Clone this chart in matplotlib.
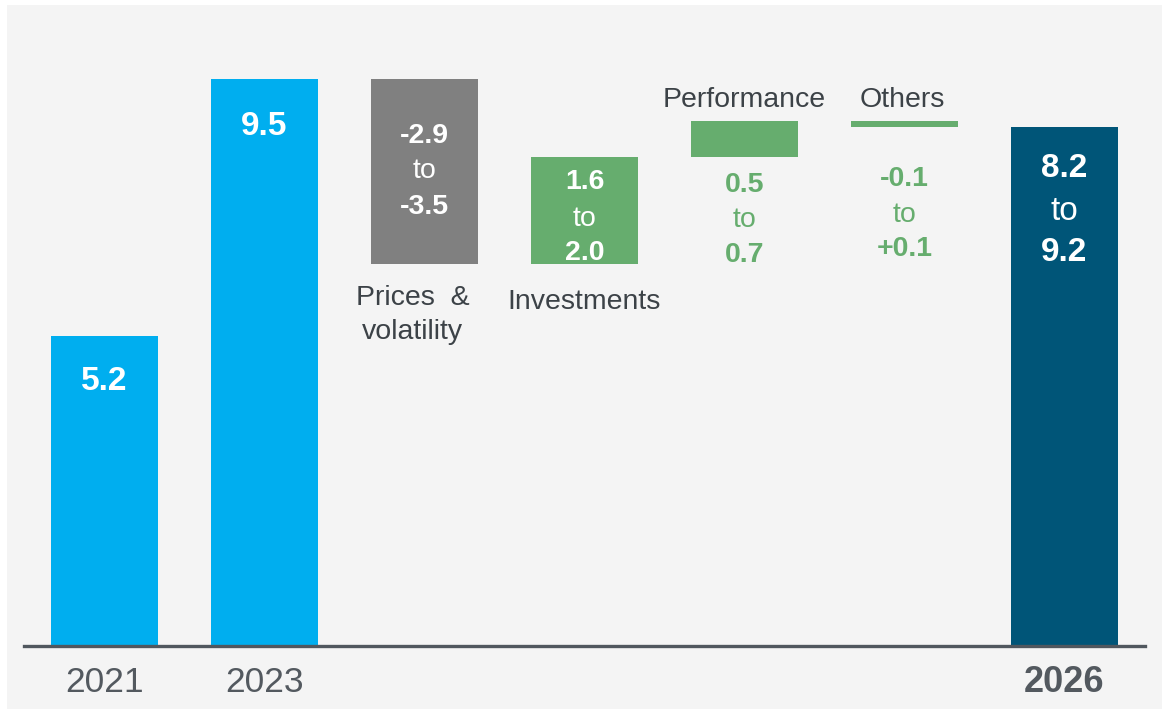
import matplotlib
matplotlib.use("Agg")
import matplotlib.pyplot as plt
from matplotlib.patches import Rectangle

plt.rcParams['font.family'] = ['Liberation Sans', 'DejaVu Sans']

# data
kinds = ["total", "total", "delta", "delta", "delta", "delta", "total"]
steps = [5.2, 9.5, -3.1, 1.8, 0.6, -0.1, 8.7]          # drawn heights (mid of ranges)
years = ["2021", "2023", "", "", "", "", "2026"]
categories = ["", "", "Prices  &\nvolatility", "Investments", "Performance", "Others", ""]
range_low = ["5.2", "9.5", "-2.9", "1.6", "0.5", "-0.1", "8.2"]
range_high = ["", "", "-3.5", "2.0", "0.7", "+0.1", "9.2"]

colors = ["#00aeef", "#00aeef", "#808080", "#66ad6e", "#66ad6e", "#66ad6e", "#005578"]
text_colors = ["white", "white", "white", "white", "#66ad6e", "#66ad6e", "white"]
value_size = [24, 24, 20.5, 20.5, 20.5, 20.5, 24]
# baseline offsets (px) from bar top for value lines
value_offsets = [[54], [56], [64, 99, 135], [32, 69, 103], [71, 106, 141], [65, 101, 135], [50, 93, 134]]


def px(v):
    return v * 0.72


W, H = 1162, 709
fig = plt.figure(figsize=(W / 100, H / 100), dpi=100)
fig.patch.set_facecolor("white")

ax = fig.add_axes([0, 0, 1, 1])
ax.set_facecolor("none")
ax.add_patch(Rectangle((7 / W, 0), 1, 1 - 5 / H, transform=fig.transFigure,
                       facecolor="#f4f4f4", edgecolor="none", zorder=0))
scale = 59.68
base = 646
ax.set_xlim(-104.5 / 160, (W - 104.5) / 160)
ax.set_ylim(-(H - base) / scale, base / scale)
ax.axis("off")

running = 0
bars = []
for i, (k, v) in enumerate(zip(kinds, steps)):
    if k == "total":
        bottom, top = 0, v
        running = v
    else:
        bottom, top = min(running, running + v), max(running, running + v)
        running += v
    ax.bar(i, top - bottom, bottom=bottom, width=0.67, color=colors[i], zorder=2)
    bars.append((bottom, top))

ax.axhline(0, xmin=24 / W, xmax=1145 / W, color="#50575e", lw=2.4, zorder=3)

for i, (bottom, top) in enumerate(bars):
    offs = value_offsets[i]
    lines = [range_low[i]] if not range_high[i] else [range_low[i], "to", range_high[i]]
    for txt, off in zip(lines, offs):
        ax.annotate(txt, (i, top), xytext=(0, -px(off)), textcoords="offset points",
                    ha="center", va="baseline", color=text_colors[i], zorder=4,
                    fontsize=value_size[i], fontweight="normal" if txt == "to" else "bold")

    if years[i]:
        ax.annotate(years[i], (i, 0), xytext=(0, -px(46)), textcoords="offset points",
                    ha="center", va="baseline", color="#53595f", fontsize=25.5 if i < 6 else 26,
                    fontweight="bold" if i == 6 else "normal", zorder=4)

# category labels
ax.annotate("Prices  &", (2, bars[2][0]), xytext=(px(-12), -px(41)), textcoords="offset points",
            ha="center", va="baseline", color="#3c4247", fontsize=20.5)
ax.annotate("volatility", (2, bars[2][0]), xytext=(px(-12), -px(75)), textcoords="offset points",
            ha="center", va="baseline", color="#3c4247", fontsize=20.5)
ax.annotate(categories[3], (3, bars[3][0]), xytext=(0, -px(45)), textcoords="offset points",
            ha="center", va="baseline", color="#3c4247", fontsize=20.5)
for i in (4, 5):
    ax.annotate(categories[i], (i, bars[4][1]), xytext=(px(-2 if i == 5 else 0), px(14)),
                textcoords="offset points", ha="center", va="baseline",
                color="#3c4247", fontsize=20.5)

fig.savefig("out.png", dpi=100, facecolor="white")
